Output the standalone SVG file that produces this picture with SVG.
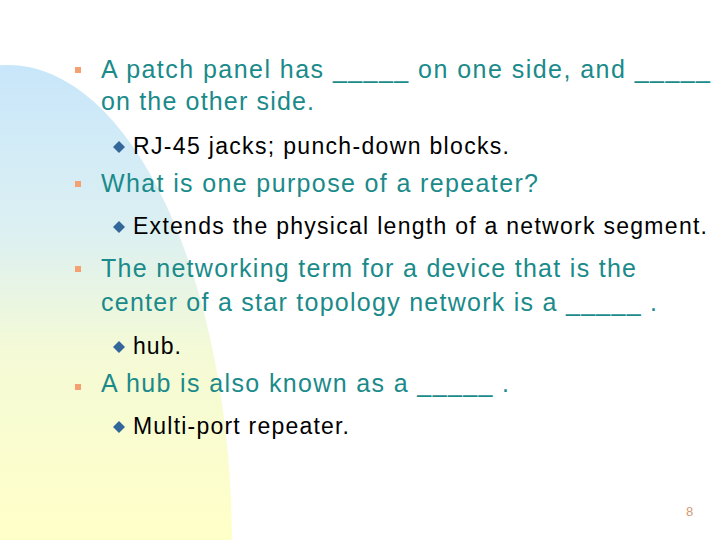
<svg xmlns="http://www.w3.org/2000/svg" width="720" height="540" viewBox="0 0 720 540">
<defs>
<linearGradient id="bg" gradientUnits="userSpaceOnUse" x1="0" y1="65" x2="0" y2="540">
<stop offset="0" stop-color="#c8e6fa"/>
<stop offset="0.35" stop-color="#dcf0f2"/>
<stop offset="0.6" stop-color="#f4fad6"/>
<stop offset="1" stop-color="#ffffc8"/>
</linearGradient>
</defs>
<style>
.m{font-family:"Liberation Sans",Arial,sans-serif;font-size:25px;fill:#1a8a8a}
.s{font-family:"Liberation Sans",Arial,sans-serif;font-size:23px;fill:#000}
.sq{fill:#f4a070}
.dm{fill:#336699}
</style>
<rect width="720" height="540" fill="#fff"/>
<ellipse cx="8" cy="545" rx="224" ry="480" fill="url(#bg)"/>
<g id="q1">
<rect class="sq" x="75" y="67" width="6" height="6"/>
<text class="m" x="101" y="78" textLength="609" lengthAdjust="spacing">A patch panel has _____ on one side, and _____</text>
<text class="m" x="101" y="110" textLength="213" lengthAdjust="spacing">on the other side.</text>
<path class="dm" d="M119 141l6 6-6 6-6-6z"/>
<text class="s" x="133" y="154" textLength="376" lengthAdjust="spacing">RJ-45 jacks; punch-down blocks.</text>
</g>
<g id="q2">
<rect class="sq" x="75" y="181" width="6" height="6"/>
<text class="m" x="101" y="192" textLength="437" lengthAdjust="spacing">What is one purpose of a repeater?</text>
<path class="dm" d="M119 221l6 6-6 6-6-6z"/>
<text class="s" x="133" y="234" textLength="574" lengthAdjust="spacing">Extends the physical length of a network segment.</text>
</g>
<g id="q3">
<rect class="sq" x="75" y="266" width="6" height="6"/>
<text class="m" x="101" y="277" textLength="535" lengthAdjust="spacing">The networking term for a device that is the</text>
<text class="m" x="101" y="311" textLength="556" lengthAdjust="spacing">center of a star topology network is a _____ .</text>
<path class="dm" d="M119 341l6 6-6 6-6-6z"/>
<text class="s" x="133" y="354" textLength="48" lengthAdjust="spacing">hub.</text>
</g>
<g id="q4">
<rect class="sq" x="75" y="384" width="6" height="6"/>
<text class="m" x="101" y="392" textLength="408" lengthAdjust="spacing">A hub is also known as a _____ .</text>
<path class="dm" d="M119 421l6 6-6 6-6-6z"/>
<text class="s" x="133" y="434" textLength="216" lengthAdjust="spacing">Multi-port repeater.</text>
</g>
<text x="686" y="516" font-family="Liberation Sans,Arial,sans-serif" font-size="13" fill="#d49a78">8</text>
</svg>
